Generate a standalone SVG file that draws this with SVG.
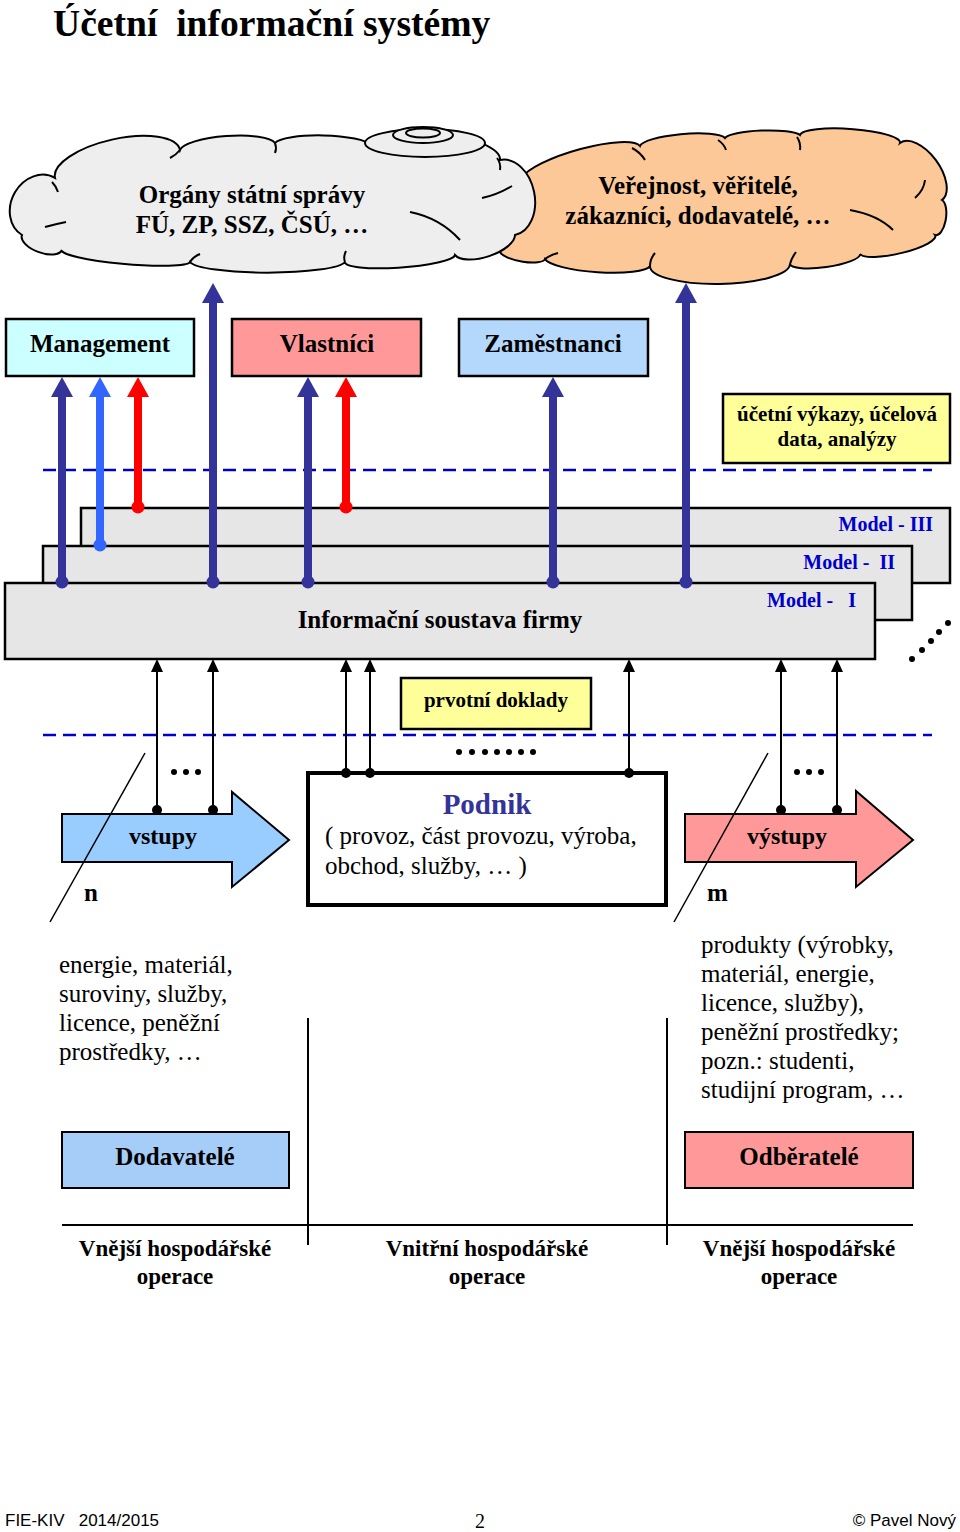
<svg xmlns="http://www.w3.org/2000/svg" width="960" height="1532" viewBox="0 0 960 1532">
<style>
.b{font-family:"Liberation Serif","Times New Roman",serif;font-weight:bold;fill:#000}
.r{font-family:"Liberation Serif","Times New Roman",serif;fill:#000}
.s{font-family:"Liberation Sans",Arial,sans-serif;fill:#000}
.box{stroke:#000;stroke-width:2.5}
.crease{fill:none;stroke:#000;stroke-width:2}
.dash{stroke:#0000cc;stroke-width:2.5;stroke-dasharray:13 7;fill:none}
.thk{stroke-width:8;fill:none}
.thin{stroke:#000;stroke-width:2;fill:none}
.mod{font-family:"Liberation Serif","Times New Roman",serif;font-weight:bold;fill:#0000cc;font-size:20px}
</style>
<defs>
<marker id="ahDB" markerUnits="userSpaceOnUse" markerWidth="20" markerHeight="22" refX="0" refY="11" orient="auto"><path d="M0,0 L20,11 L0,22 Z" fill="#333399"/></marker>
<marker id="ahLB" markerUnits="userSpaceOnUse" markerWidth="20" markerHeight="22" refX="0" refY="11" orient="auto"><path d="M0,0 L20,11 L0,22 Z" fill="#3366ff"/></marker>
<marker id="ahR" markerUnits="userSpaceOnUse" markerWidth="20" markerHeight="22" refX="0" refY="11" orient="auto"><path d="M0,0 L20,11 L0,22 Z" fill="#ff0000"/></marker>
<marker id="ahK" markerUnits="userSpaceOnUse" markerWidth="13" markerHeight="12" refX="0" refY="6" orient="auto"><path d="M0,0 L13,6 L0,12 Z" fill="#000"/></marker>
</defs>
<rect width="960" height="1532" fill="#fff"/>

<text class="b" x="53" y="36" font-size="37.6" xml:space="preserve">Účetní  informační systémy</text>

<!-- right cloud (behind) -->
<g id="cloud-public">
<path d="M500,252 A40,26 -72 0 1 522,178 A62,15 -16 0 1 640,146 A43,9 -5 0 1 725,138 A38,7 -2 0 1 800,135 A50,10 4 0 1 900,143 A34,18 54 0 1 942,200 A18,8 98 0 1 935,235 A38,9 167 0 1 860,254 A35,8 172 0 1 790,264 A70,19 179 0 1 650,266 A53,11 184 0 1 545,259 A23,7 190 0 1 500,252 Z" fill="#fcc898" stroke="#000" stroke-width="2"/>
<path class="crease" d="M508,190 Q518,180 530,182"/>
<path class="crease" d="M632,148 Q640,152 645,160"/>
<path class="crease" d="M718,140 Q724,144 726,150"/>
<path class="crease" d="M797,137 Q801,143 800,150"/>
<path class="crease" d="M925,180 Q924,190 915,198"/>
<path class="crease" d="M850,210 Q878,215 893,230"/>
<path class="crease" d="M790,264 Q792,257 796,252"/>
<path class="crease" d="M650,266 Q650,259 655,253"/>
<path class="crease" d="M545,259 Q550,255 558,253"/>
<text class="b" x="698" y="194" font-size="25" text-anchor="middle">Veřejnost, věřitelé,</text>
<text class="b" x="698" y="224" font-size="25" text-anchor="middle">zákazníci, dodavatelé, …</text>
</g>

<!-- left cloud -->
<g id="cloud-state">
<path d="M22,235 A30,25 -62 0 1 55,178 A64,25 -12.6 0 1 180,150 A48,12 -4 0 1 275,143 A48,10 1 0 1 370,145 A65,20 6.6 0 1 500,160 A38,27 79 0 1 515,235 A32,14 162 0 1 455,255 A55,9 176 0 1 345,262 A78,12 180 0 1 190,262 A64,8 185 0 1 62,250 A21,10 200 0 1 22,235 Z" fill="#eeeeee" stroke="#000" stroke-width="2"/>
<path class="crease" d="M52,182 Q56,186 58,192"/>
<path class="crease" d="M180,150 Q176,155 170,158"/>
<path class="crease" d="M275,143 Q277,148 275,153"/>
<path class="crease" d="M497,158 Q501,163 500,170"/>
<path class="crease" d="M482,198 Q497,195 512,186"/>
<path class="crease" d="M410,212 Q440,218 460,240"/>
<path class="crease" d="M345,262 Q343,257 346,251"/>
<path class="crease" d="M190,262 Q193,257 200,254"/>
<path class="crease" d="M45,227 Q56,224 66,222"/>
<ellipse cx="425" cy="143" rx="60" ry="14" fill="#eeeeee" stroke="#000" stroke-width="2"/>
<ellipse cx="423" cy="135" rx="30" ry="8" fill="#eeeeee" stroke="#000" stroke-width="2"/>
<ellipse cx="423" cy="133" rx="17" ry="4.5" fill="#eeeeee" stroke="#000" stroke-width="2"/>
<text class="b" x="252" y="203" font-size="25" text-anchor="middle">Orgány státní správy</text>
<text class="b" x="252" y="233" font-size="25" text-anchor="middle">FÚ, ZP, SSZ, ČSÚ, …</text>
</g>

<g id="management"><rect class="box" x="6" y="319" width="188" height="57" fill="#ccffff"/><text class="b" x="100" y="352" font-size="25" text-anchor="middle">Management</text></g>
<g id="vlastnici"><rect class="box" x="232" y="319" width="189" height="57" fill="#ff9999"/><text class="b" x="327" y="352" font-size="25" text-anchor="middle">Vlastníci</text></g>
<g id="zamestnanci"><rect class="box" x="459" y="319" width="189" height="57" fill="#b4d8fc"/><text class="b" x="553" y="352" font-size="25" text-anchor="middle">Zaměstnanci</text></g>
<g id="vykazy"><rect class="box" x="723" y="394" width="227" height="69" fill="#ffff99"/><text class="b" x="837" y="421" font-size="21" text-anchor="middle">účetní výkazy, účelová</text><text class="b" x="837" y="446" font-size="21" text-anchor="middle">data, analýzy</text></g>

<line class="dash" x1="43" y1="470" x2="932" y2="470"/>
<line class="dash" x1="43" y1="735" x2="932" y2="735"/>

<g id="model3"><rect x="81" y="508" width="869" height="75" fill="#e6e6e6" stroke="#000" stroke-width="2.5"/><text class="mod" x="933" y="531" text-anchor="end">Model - III</text></g>
<g id="model2"><rect x="43" y="546" width="869" height="74" fill="#e6e6e6" stroke="#000" stroke-width="2.5"/><text class="mod" x="895" y="569" text-anchor="end" xml:space="preserve">Model -  II</text></g>
<g id="model1"><rect x="5" y="583" width="870" height="76" fill="#e6e6e6" stroke="#000" stroke-width="2.5"/><text class="mod" x="856" y="607" text-anchor="end" xml:space="preserve">Model -   I</text><text class="b" x="440" y="628" font-size="25" text-anchor="middle">Informační soustava firmy</text></g>
<g id="more-models" fill="#000"><circle cx="912" cy="659" r="3"/><circle cx="922" cy="650" r="3"/><circle cx="931" cy="641" r="3"/><circle cx="939" cy="632" r="3"/><circle cx="948" cy="623" r="3"/></g>

<g id="prvotni"><rect class="box" x="401" y="678" width="190" height="51" fill="#ffff99"/><text class="b" x="496" y="707" font-size="21" text-anchor="middle">prvotní doklady</text></g>

<g id="podnik"><rect x="308" y="773" width="358" height="132" fill="#fff" stroke="#000" stroke-width="4"/><text class="b" x="487" y="814" font-size="29" style="fill:#333399" text-anchor="middle">Podnik</text><text class="r" x="325" y="844" font-size="25">( provoz, část provozu, výroba,</text><text class="r" x="325" y="874" font-size="25">obchod, služby, … )</text></g>

<g id="vstupy"><path d="M62,814 H232 V792 L289,840 L232,887 V862 H62 Z" fill="#99ccff" stroke="#000" stroke-width="2"/><text class="b" x="163" y="844" font-size="24" text-anchor="middle">vstupy</text></g>
<g id="vystupy"><path d="M685,814 H856 V791 L913,840 L856,887 V862 H685 Z" fill="#ff9999" stroke="#000" stroke-width="2"/><text class="b" x="787" y="844" font-size="24" text-anchor="middle">výstupy</text></g>

<g id="connectors">
<line class="thk" stroke="#333399" x1="62" y1="582" x2="62" y2="397" marker-end="url(#ahDB)"/>
<line class="thk" stroke="#3366ff" x1="100" y1="545" x2="100" y2="397" marker-end="url(#ahLB)"/>
<line class="thk" stroke="#ff0000" x1="138" y1="507" x2="138" y2="397" marker-end="url(#ahR)"/>
<line class="thk" stroke="#333399" x1="213" y1="582" x2="213" y2="303" marker-end="url(#ahDB)"/>
<line class="thk" stroke="#333399" x1="308" y1="582" x2="308" y2="397" marker-end="url(#ahDB)"/>
<line class="thk" stroke="#ff0000" x1="346" y1="507" x2="346" y2="397" marker-end="url(#ahR)"/>
<line class="thk" stroke="#333399" x1="553" y1="582" x2="553" y2="397" marker-end="url(#ahDB)"/>
<line class="thk" stroke="#333399" x1="686" y1="582" x2="686" y2="303" marker-end="url(#ahDB)"/>
<circle cx="62" cy="582" r="6.5" fill="#333399"/>
<circle cx="100" cy="545" r="6.5" fill="#3366ff"/>
<circle cx="138" cy="507" r="6.5" fill="#ff0000"/>
<circle cx="213" cy="582" r="6.5" fill="#333399"/>
<circle cx="308" cy="582" r="6.5" fill="#333399"/>
<circle cx="346" cy="507" r="6.5" fill="#ff0000"/>
<circle cx="553" cy="582" r="6.5" fill="#333399"/>
<circle cx="686" cy="582" r="6.5" fill="#333399"/>

<line class="thin" x1="157" y1="810" x2="157" y2="672" marker-end="url(#ahK)"/>
<line class="thin" x1="213" y1="810" x2="213" y2="672" marker-end="url(#ahK)"/>
<line class="thin" x1="346" y1="773" x2="346" y2="672" marker-end="url(#ahK)"/>
<line class="thin" x1="370" y1="773" x2="370" y2="672" marker-end="url(#ahK)"/>
<line class="thin" x1="629" y1="773" x2="629" y2="672" marker-end="url(#ahK)"/>
<line class="thin" x1="781" y1="810" x2="781" y2="672" marker-end="url(#ahK)"/>
<line class="thin" x1="837" y1="810" x2="837" y2="672" marker-end="url(#ahK)"/>
<g fill="#000">
<circle cx="157" cy="810" r="5"/><circle cx="213" cy="810" r="5"/>
<circle cx="346" cy="773" r="5"/><circle cx="370" cy="773" r="5"/><circle cx="629" cy="773" r="5"/>
<circle cx="781" cy="810" r="5"/><circle cx="837" cy="810" r="5"/>
<circle cx="174" cy="772" r="3"/><circle cx="186" cy="772" r="3"/><circle cx="198" cy="772" r="3"/>
<circle cx="459" cy="752" r="3"/><circle cx="472" cy="752" r="3"/><circle cx="485" cy="752" r="3"/><circle cx="497" cy="752" r="3"/><circle cx="509" cy="752" r="3"/><circle cx="521" cy="752" r="3"/><circle cx="533" cy="752" r="3"/>
<circle cx="797" cy="772" r="3"/><circle cx="809" cy="772" r="3"/><circle cx="821" cy="772" r="3"/>
</g>
<line x1="145" y1="753" x2="50" y2="922" stroke="#000" stroke-width="1.5"/>
<line x1="768" y1="753" x2="674" y2="922" stroke="#000" stroke-width="1.5"/>
</g>
<text class="b" x="84" y="901" font-size="25">n</text>
<text class="b" x="707" y="901" font-size="25">m</text>

<g id="vstupy-text">
<text class="r" x="59" y="973" font-size="25">energie, materiál,</text>
<text class="r" x="59" y="1002" font-size="25">suroviny, služby,</text>
<text class="r" x="59" y="1031" font-size="25">licence, peněžní</text>
<text class="r" x="59" y="1060" font-size="25">prostředky, …</text>
</g>
<g id="vystupy-text">
<text class="r" x="701" y="953" font-size="25">produkty (výrobky,</text>
<text class="r" x="701" y="982" font-size="25">materiál, energie,</text>
<text class="r" x="701" y="1011" font-size="25">licence, služby),</text>
<text class="r" x="701" y="1040" font-size="25">peněžní prostředky;</text>
<text class="r" x="701" y="1069" font-size="25">pozn.: studenti,</text>
<text class="r" x="701" y="1098" font-size="25">studijní program, …</text>
</g>

<g id="dodavatele"><rect x="62" y="1132" width="227" height="56" fill="#a6cdf7" stroke="#000" stroke-width="2"/><text class="b" x="175" y="1165" font-size="25" text-anchor="middle">Dodavatelé</text></g>
<g id="odberatele"><rect x="685" y="1132" width="228" height="56" fill="#ff9999" stroke="#000" stroke-width="2"/><text class="b" x="799" y="1165" font-size="25" text-anchor="middle">Odběratelé</text></g>

<g id="separators" stroke="#000" stroke-width="2">
<line x1="308" y1="1018" x2="308" y2="1245"/>
<line x1="667" y1="1018" x2="667" y2="1245"/>
<line x1="62" y1="1225" x2="913" y2="1225"/>
</g>
<g id="sections">
<text class="b" x="175" y="1256" font-size="23" text-anchor="middle">Vnější hospodářské</text>
<text class="b" x="175" y="1284" font-size="23" text-anchor="middle">operace</text>
<text class="b" x="487" y="1256" font-size="23" text-anchor="middle">Vnitřní hospodářské</text>
<text class="b" x="487" y="1284" font-size="23" text-anchor="middle">operace</text>
<text class="b" x="799" y="1256" font-size="23" text-anchor="middle">Vnější hospodářské</text>
<text class="b" x="799" y="1284" font-size="23" text-anchor="middle">operace</text>
</g>

<text class="s" x="5" y="1526" font-size="17" xml:space="preserve">FIE-KIV   2014/2015</text>
<text class="r" x="480" y="1528" font-size="20" text-anchor="middle">2</text>
<text class="s" x="956" y="1526" font-size="17" text-anchor="end">© Pavel Nový</text>
</svg>
